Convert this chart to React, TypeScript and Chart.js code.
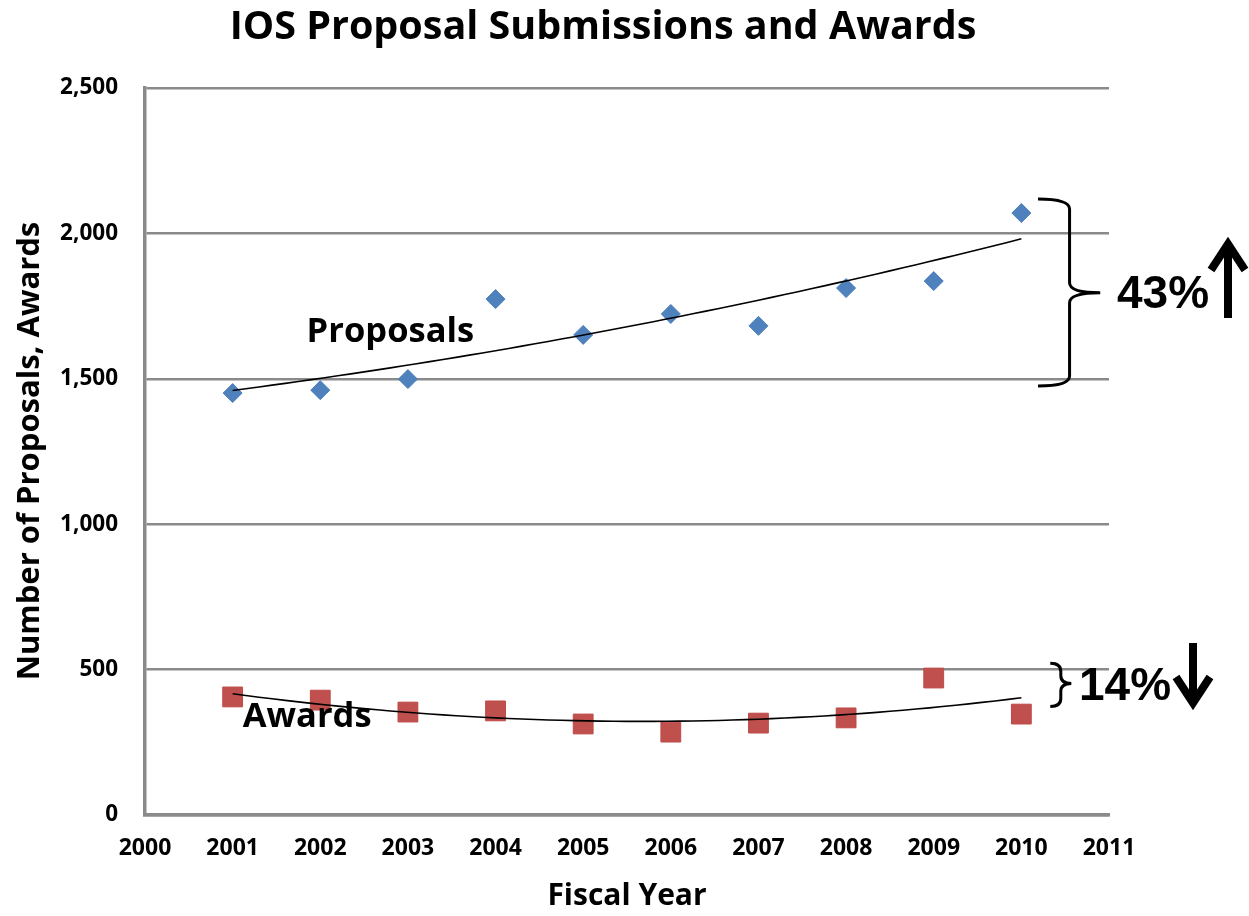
import React, { useEffect, useRef } from "react";
import { Chart, registerables } from "chart.js";

Chart.register(...registerables);

// ---- data ----
const years = [2001, 2002, 2003, 2004, 2005, 2006, 2007, 2008, 2009, 2010];
const proposals = [1451, 1461, 1499, 1774, 1651, 1723, 1682, 1812, 1836, 2070];
const awards = [406, 395, 354, 358, 313, 285, 316, 334, 471, 347];
const xRange = [2000, 2011];
const yRange = [0, 2500];
const yStep = 500;
const titleText = "IOS Proposal Submissions and Awards";
const xTitle = "Fiscal Year";
const yTitle = "Number of Proposals, Awards";
const seriesLabels = ["Proposals", "Awards"];
const changeLabels = ["43%", "14%"];

// quadratic least-squares (Excel polynomial trendline, order 2)
function quadFit(xs: number[], ys: number[]) {
  const x0 = xs[0];
  let s0 = 0, s1 = 0, s2 = 0, s3 = 0, s4 = 0, t0 = 0, t1 = 0, t2 = 0;
  xs.forEach((xv, i) => {
    const u = xv - x0;
    const y = ys[i];
    s0 += 1; s1 += u; s2 += u * u; s3 += u * u * u; s4 += u * u * u * u;
    t0 += y; t1 += u * y; t2 += u * u * y;
  });
  const det = (m: number[][]) =>
    m[0][0] * (m[1][1] * m[2][2] - m[1][2] * m[2][1]) -
    m[0][1] * (m[1][0] * m[2][2] - m[1][2] * m[2][0]) +
    m[0][2] * (m[1][0] * m[2][1] - m[1][1] * m[2][0]);
  const A = [[s0, s1, s2], [s1, s2, s3], [s2, s3, s4]];
  const D = det(A);
  const a = det([[t0, s1, s2], [t1, s2, s3], [t2, s3, s4]]) / D;
  const b = det([[s0, t0, s2], [s1, t1, s3], [s2, t2, s4]]) / D;
  const c = det([[s0, s1, t0], [s1, s2, t1], [s2, s3, t2]]) / D;
  return (xv: number) => {
    const u = xv - x0;
    return a + b * u + c * u * u;
  };
}

function trendPoints(xs: number[], ys: number[]) {
  const f = quadFit(xs, ys);
  const pts: { x: number; y: number }[] = [];
  const start = xs[0], end = xs[xs.length - 1];
  const n = 60;
  for (let i = 0; i <= n; i++) {
    const xv = start + ((end - start) * i) / n;
    pts.push({ x: xv, y: f(xv) });
  }
  return pts;
}

const CAL = "'Open Sans', 'Noto Sans', sans-serif";
const ARIAL = "'Liberation Sans', Arial, sans-serif";
const GRID = "#8a8a8a";

const overlay = {
  id: "overlay",
  afterDraw(chart: any) {
    const ctx = chart.ctx as CanvasRenderingContext2D;
    const xs = chart.scales.x;
    const ys = chart.scales.y;
    const px = (v: number) => xs.getPixelForValue(v);
    const py = (v: number) => ys.getPixelForValue(v);
    ctx.save();
    ctx.fillStyle = "#000";
    ctx.textAlign = "center";
    ctx.textBaseline = "middle";

    // title
    ctx.font = `bold 39.5px ${CAL}`;
    ctx.fillText(titleText, 603, 28);
    // x title
    ctx.font = `bold 30px ${CAL}`;
    ctx.fillText(xTitle, (chart.chartArea.left + chart.chartArea.right) / 2, 896);
    // y title
    ctx.save();
    ctx.translate(30, 451);
    ctx.rotate(-Math.PI / 2);
    ctx.font = `bold 31px ${CAL}`;
    ctx.fillText(yTitle, 0, 0);
    ctx.restore();

    // series labels
    ctx.font = `bold 34.5px ${CAL}`;
    ctx.fillText(seriesLabels[0], px(2002.8), py(1661));
    ctx.fillText(seriesLabels[1], px(2001.85), py(338));

    // braces
    const brace = (xEnd: number, xSpine: number, xTip: number, top: number, mid: number, bot: number, r: number) => {
      ctx.beginPath();
      ctx.moveTo(xEnd, top);
      ctx.quadraticCurveTo(xSpine, top, xSpine, top + r);
      ctx.lineTo(xSpine, mid - r);
      ctx.quadraticCurveTo(xSpine, mid, xTip, mid);
      ctx.quadraticCurveTo(xSpine, mid, xSpine, mid + r);
      ctx.lineTo(xSpine, bot - r);
      ctx.quadraticCurveTo(xSpine, bot, xEnd, bot);
      ctx.stroke();
    };
    ctx.strokeStyle = "#000";
    ctx.lineWidth = 3;
    brace(px(2010.19), px(2010.55), px(2010.9), py(2118), py(1796), py(1475), 10);
    brace(px(2010.33), px(2010.45), px(2010.57), py(522), py(452), py(373), 8);

    // percentages
    ctx.font = `bold 46px ${ARIAL}`;
    ctx.textAlign = "left";
    ctx.textBaseline = "alphabetic";
    ctx.fillText(changeLabels[0], 1117, 308);
    ctx.fillText(changeLabels[1], 1079, 700);

    // arrows
    ctx.lineWidth = 8;
    ctx.lineCap = "butt";
    ctx.lineJoin = "miter";
    const arrow = (x: number, tail: number, tip: number) => {
      const dir = tip < tail ? 1 : -1;
      ctx.beginPath();
      ctx.moveTo(x, tail);
      ctx.lineTo(x, tip + dir * 4);
      ctx.stroke();
      ctx.beginPath();
      ctx.moveTo(x - 17, tip + dir * 30);
      ctx.lineTo(x, tip + dir * 4);
      ctx.lineTo(x + 17, tip + dir * 30);
      ctx.stroke();
    };
    arrow(1228, 318, 240);
    arrow(1193, 643, 707);

    ctx.restore();
  },
};

export default function App() {
  const ref = useRef<HTMLCanvasElement | null>(null);
  useEffect(() => {
    if (!ref.current) return;
    const chart = new Chart(ref.current, {
      type: "scatter",
      data: {
        datasets: [
          {
            label: "Proposals trend",
            data: trendPoints(years, proposals),
            showLine: true,
            borderColor: "#000",
            borderWidth: 1.6,
            pointRadius: 0,
            order: 0,
          },
          {
            label: "Awards trend",
            data: trendPoints(years, awards),
            showLine: true,
            borderColor: "#000",
            borderWidth: 1.6,
            pointRadius: 0,
            order: 0,
          },
          {
            label: "Proposals",
            data: years.map((x, i) => ({ x, y: proposals[i] })),
            pointStyle: "rectRot",
            pointRadius: 9.5,
            backgroundColor: "#4F81BD",
            borderColor: "#4A7EBB",
            borderWidth: 1,
            order: 1,
          },
          {
            label: "Awards",
            data: years.map((x, i) => ({ x, y: awards[i] })),
            pointStyle: "rect",
            pointRadius: 14,
            backgroundColor: "#C0504D",
            borderColor: "#BE4B48",
            borderWidth: 1,
            order: 1,
          },
        ],
      },
      options: {
        responsive: false,
        animation: false,
        layout: { padding: { top: 88, right: 140, bottom: 0, left: 0 } },
        plugins: { legend: { display: false }, tooltip: { enabled: false }, title: { display: false } },
        scales: {
          x: {
            type: "linear",
            min: xRange[0],
            max: xRange[1],
            afterFit: (s: any) => { s.height = 101; },
            afterBuildTicks: (s: any) => {
              const t = [];
              for (let v = xRange[0]; v <= xRange[1]; v++) t.push({ value: v });
              s.ticks = t;
            },
            ticks: {
              callback: (v: any) => String(v),
              color: "#000",
              font: { family: CAL, size: 23, weight: "bold" },
              padding: 20,
              maxRotation: 0,
              autoSkip: false,
            },
            grid: { display: false, drawTicks: false },
            border: { display: true, color: GRID, width: 3.5 },
          },
          y: {
            type: "linear",
            min: yRange[0],
            max: yRange[1],
            afterFit: (s: any) => { s.width = 145; },
            ticks: {
              stepSize: yStep,
              color: "#000",
              font: { family: CAL, size: 22.5, weight: "bold" },
              padding: 27,
            },
            grid: { color: GRID, lineWidth: 2.5, drawTicks: false },
            border: { display: true, color: GRID, width: 3.5 },
          },
        },
      },
      plugins: [overlay],
    });
    return () => chart.destroy();
  }, []);
  return (
    <div style={{ position: "fixed", left: 0, top: 0, width: 1249, height: 916, background: "#fff" }}>
      <canvas ref={ref} width={1249} height={916} />
    </div>
  );
}
